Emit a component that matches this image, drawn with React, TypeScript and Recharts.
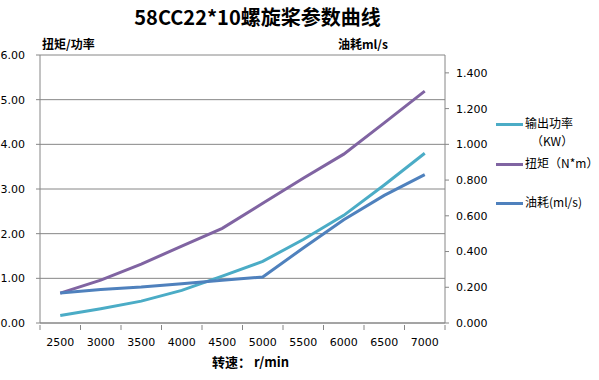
import React from "react";
import { CartesianGrid, Line, LineChart, XAxis, YAxis } from "recharts";

const speeds = ["2500", "3000", "3500", "4000", "4500", "5000", "5500", "6000", "6500", "7000"];
const power = [0.17, 0.32, 0.49, 0.73, 1.05, 1.38, 1.87, 2.41, 3.09, 3.8];
const torque = [0.67, 0.96, 1.32, 1.72, 2.12, 2.68, 3.24, 3.78, 4.48, 5.19];
const fuel = [0.168, 0.188, 0.201, 0.22, 0.239, 0.257, 0.42, 0.578, 0.714, 0.83];
const leftTicks = [0, 1, 2, 3, 4, 5, 6];
const rightTicks = [0, 0.2, 0.4, 0.6, 0.8, 1.0, 1.2, 1.4];

const data = speeds.map((s, i) => ({
  speed: s,
  power: power[i],
  torque: torque[i],
  fuel: fuel[i],
}));

const AXIS = "#868686";
const NUM_FONT = "'DejaVu Sans', sans-serif";
const CJK_FONT = "'Noto Sans CJK SC', sans-serif";
const HALF_BAND = 20.25;

const XTick = (props: any) => {
  const { x, y, payload, index, visibleTicksCount } = props;
  const last = index === visibleTicksCount - 1;
  return (
    <g>
      <line x1={x - HALF_BAND} x2={x - HALF_BAND} y1={y} y2={y + 5} stroke={AXIS} />
      {last && <line x1={x + HALF_BAND} x2={x + HALF_BAND} y1={y} y2={y + 5} stroke={AXIS} />}
      <text
        x={x}
        y={y + 17}
        textAnchor="middle"
        dominantBaseline="central"
        fontSize={11}
        fontFamily={NUM_FONT}
        fill="#000"
      >
        {payload.value}
      </text>
    </g>
  );
};

const legendItems = [
  { color: "#4BACC6", lines: ["输出功率", "（KW）"], y: 124 },
  { color: "#8064A2", lines: ["扭矩（N*m）"], y: 164 },
  { color: "#4F81BD", lines: ["油耗(ml/s)"], y: 203 },
];

export default function App() {
  return (
    <div
      style={{
        position: "absolute",
        left: 0,
        top: 0,
        width: 599,
        height: 380,
        background: "#fff",
        fontFamily: CJK_FONT,
      }}
    >
      <div
        style={{
          position: "absolute",
          left: 0,
          width: 515,
          top: 3,
          textAlign: "center",
          fontSize: 20,
          fontWeight: "bold",
          lineHeight: "28px",
          color: "#000",
        }}
      >
        58CC22*10螺旋桨参数曲线
      </div>
      <div style={{ position: "absolute", left: 42, top: 35, fontSize: 12, fontWeight: "bold", lineHeight: "18px" }}>
        扭矩/功率
      </div>
      <div style={{ position: "absolute", left: 338, top: 35, fontSize: 12, fontWeight: "bold", lineHeight: "18px" }}>
        油耗ml/s
      </div>
      <div style={{ position: "absolute", left: 212, top: 352, fontSize: 13, fontWeight: "bold", lineHeight: "20px" }}>
        转速： r/min
      </div>

      <LineChart width={599} height={380} data={data} margin={{ top: 55, right: 94, bottom: 27, left: 0 }}>
        <CartesianGrid yAxisId="left" vertical={false} stroke={AXIS} strokeWidth={1} />
        <XAxis
          dataKey="speed"
          height={30}
          padding={{ left: HALF_BAND, right: HALF_BAND }}
          stroke={AXIS}
          tickLine={false}
          tickSize={0}
          interval={0}
          tick={<XTick />}
        />
        <YAxis
          yAxisId="left"
          width={40}
          domain={[0, 6]}
          ticks={leftTicks}
          tickFormatter={(v: number) => v.toFixed(2)}
          stroke={AXIS}
          tickSize={4}
          tickMargin={11}
          tick={{ fill: "#000", fontSize: 11, fontFamily: NUM_FONT }}
        />
        <YAxis
          yAxisId="right"
          orientation="right"
          width={60}
          domain={[0, 1.5]}
          ticks={rightTicks}
          tickFormatter={(v: number) => v.toFixed(3)}
          stroke={AXIS}
          tickSize={4}
          tickMargin={7}
          tick={{ fill: "#000", fontSize: 11, fontFamily: NUM_FONT, textAnchor: "start" }}
        />
        <Line yAxisId="left" dataKey="power" stroke="#4BACC6" strokeWidth={3} dot={false} isAnimationActive={false} />
        <Line yAxisId="left" dataKey="torque" stroke="#8064A2" strokeWidth={3} dot={false} isAnimationActive={false} />
        <Line yAxisId="right" dataKey="fuel" stroke="#4F81BD" strokeWidth={3} dot={false} isAnimationActive={false} />
      </LineChart>

      {legendItems.map((item) => (
        <div key={item.lines[0]}>
          <div
            style={{
              position: "absolute",
              left: 496,
              top: item.y - 1.5,
              width: 27,
              height: 3,
              background: item.color,
            }}
          />
          <div
            style={{
              position: "absolute",
              left: 525,
              top: item.y - 10,
              fontSize: 12,
              lineHeight: "18px",
              color: "#000",
              whiteSpace: "nowrap",
            }}
          >
            {item.lines[0]}
            {item.lines[1] && <div style={{ marginLeft: 6 }}>{item.lines[1]}</div>}
          </div>
        </div>
      ))}
    </div>
  );
}
